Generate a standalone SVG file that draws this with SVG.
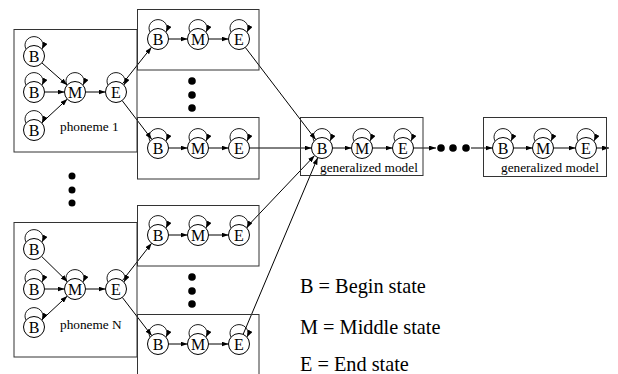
<svg xmlns="http://www.w3.org/2000/svg" width="618" height="374" viewBox="0 0 618 374">
<style>
.box{fill:none;stroke:#333;stroke-width:1}
.st{fill:#fff;stroke:#000;stroke-width:1}
.sl{font-family:"Liberation Serif","Times New Roman",serif;font-size:16px;text-anchor:middle;fill:#000}
.lp{fill:none;stroke:#000;stroke-width:0.9;marker-end:url(#ah)}
.ln{fill:none;stroke:#000;stroke-width:1;marker-end:url(#ah)}
.lab{font-family:"Liberation Serif","Times New Roman",serif;font-size:13.3px;fill:#000}
.leg{font-family:"Liberation Serif","Times New Roman",serif;font-size:20.3px;fill:#000}
.dot{fill:#000}
</style>
<defs>
<marker id="ah" markerUnits="userSpaceOnUse" markerWidth="7" markerHeight="5" refX="7" refY="2.5" orient="auto">
<path d="M0,0 L7,2.5 L0,5 z" fill="#000"/>
</marker>
<g id="B"><path class="lp" d="M-8,-7 A9 8.5 0 1 1 8,-7"/><circle class="st" r="10.5"/><text class="sl" y="5.5" font-family="Liberation Serif, serif">B</text></g>
<g id="M"><path class="lp" d="M-8,-7 A9 8.5 0 1 1 8,-7"/><circle class="st" r="10.5"/><text class="sl" y="5.5" font-family="Liberation Serif, serif">M</text></g>
<g id="E"><path class="lp" d="M-8,-7 A9 8.5 0 1 1 8,-7"/><circle class="st" r="10.5"/><text class="sl" y="5.5" font-family="Liberation Serif, serif">E</text></g>
</defs>

<g id="connectors">
<path class="ln" d="M41.9,62.9 L67.1,85.1"/>
<path class="ln" d="M44.5,92 L64.5,92"/>
<path class="ln" d="M41.7,122.9 L67.3,99.1"/>
<path class="ln" d="M85.5,92 L105.5,92"/>
<path class="ln" d="M41.5,256.3 L67.5,281.7"/>
<path class="ln" d="M44.5,289 L64.5,289"/>
<path class="ln" d="M41.7,319.9 L67.3,296.1"/>
<path class="ln" d="M85.5,289 L105.5,289"/>
<path class="ln" d="M122.5,83.8 L151.5,47.2"/>
<path class="ln" d="M122.3,100.8 L151.7,139.2"/>
<path class="ln" d="M122.4,280.7 L151.6,243.3"/>
<path class="ln" d="M122.3,297.4 L151.7,335.6"/>
<path class="ln" d="M168.5,39 L187.5,39"/><path class="ln" d="M208.5,39 L228.5,39"/>
<path class="ln" d="M168.5,148 L187.5,148"/><path class="ln" d="M208.5,148 L228.5,148"/>
<path class="ln" d="M168.5,235 L187.5,235"/><path class="ln" d="M208.5,235 L228.5,235"/>
<path class="ln" d="M168.5,344 L187.5,344"/><path class="ln" d="M208.5,344 L228.5,344"/>
<path class="ln" d="M245.3,47.4 L315.7,139.6"/>
<path class="ln" d="M249.5,148 L311.5,148"/>
<path class="ln" d="M246.3,227.5 L314.6,155.6"/>
<path class="ln" d="M243.1,334.4 L317.7,157.7"/>
<path class="ln" d="M332.5,148 L351.5,148"/><path class="ln" d="M372.5,148 L392.5,148"/>
<path class="ln" d="M413.5,148 L436,148"/>
<path class="ln" d="M471,148 L492.5,148"/>
<path class="ln" d="M513.5,148 L532.5,148"/><path class="ln" d="M553.5,148 L575.5,148"/>
<path class="ln" d="M596.5,148 L609,148"/>
</g>

<g id="phoneme1">
<rect class="box" x="14" y="29.5" width="123" height="122.5"/>
<use href="#B" x="34" y="56"/><use href="#B" x="34" y="92"/><use href="#B" x="34" y="130"/>
<use href="#M" x="75" y="92"/><use href="#E" x="116" y="92"/>
<text class="lab" x="60" y="131">phoneme 1</text>
</g>

<g id="phonemeN">
<rect class="box" x="14" y="222.5" width="123" height="134.5"/>
<use href="#B" x="34" y="249"/><use href="#B" x="34" y="289"/><use href="#B" x="34" y="327"/>
<use href="#M" x="75" y="289"/><use href="#E" x="116" y="289"/>
<text class="lab" x="60" y="329">phoneme N</text>
</g>

<g id="phoneme-dots">
<circle class="dot" cx="72" cy="176" r="3.5"/><circle class="dot" cx="72" cy="190" r="3.5"/><circle class="dot" cx="72" cy="203" r="3.5"/>
</g>

<g id="model1a">
<rect class="box" x="137.5" y="9.5" width="121.5" height="60.5"/>
<use href="#B" x="158" y="39"/><use href="#M" x="198" y="39"/><use href="#E" x="239" y="39"/>
</g>
<g id="model1b">
<rect class="box" x="137.5" y="117.5" width="121.5" height="61.5"/>
<use href="#B" x="158" y="148"/><use href="#M" x="198" y="148"/><use href="#E" x="239" y="148"/>
</g>
<g id="model1-dots">
<circle class="dot" cx="192" cy="81" r="3.8"/><circle class="dot" cx="192" cy="95" r="3.8"/><circle class="dot" cx="192" cy="108" r="3.8"/>
</g>

<g id="modelNa">
<rect class="box" x="137.5" y="205.5" width="121.5" height="60.5"/>
<use href="#B" x="158" y="235"/><use href="#M" x="198" y="235"/><use href="#E" x="239" y="235"/>
</g>
<g id="modelNb">
<rect class="box" x="137.5" y="314.5" width="121.5" height="70"/>
<use href="#B" x="158" y="344"/><use href="#M" x="198" y="344"/><use href="#E" x="239" y="344"/>
</g>
<g id="modelN-dots">
<circle class="dot" cx="192" cy="277" r="3.8"/><circle class="dot" cx="192" cy="291" r="3.8"/><circle class="dot" cx="192" cy="304" r="3.8"/>
</g>

<g id="general1">
<rect class="box" x="300.5" y="117.5" width="122.5" height="58"/>
<use href="#B" x="322" y="148"/><use href="#M" x="362" y="148"/><use href="#E" x="403" y="148"/>
<text class="lab" x="320" y="172">generalized model</text>
</g>

<g id="chain-dots">
<circle class="dot" cx="441" cy="148" r="3.8"/><circle class="dot" cx="453" cy="148" r="3.8"/><circle class="dot" cx="466" cy="148" r="3.8"/>
</g>

<g id="general2">
<rect class="box" x="483.5" y="117.5" width="123" height="59"/>
<use href="#B" x="503" y="148"/><use href="#M" x="543" y="148"/><use href="#E" x="586" y="148"/>
<text class="lab" x="501" y="172">generalized model</text>
</g>

<g id="legend">
<text class="leg" x="300" y="293">B = Begin state</text>
<text class="leg" x="300" y="334">M = Middle state</text>
<text class="leg" x="300" y="371">E = End state</text>
</g>
</svg>
